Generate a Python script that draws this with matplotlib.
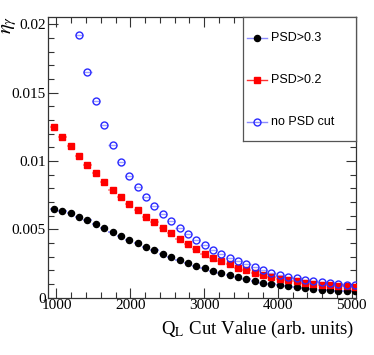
import matplotlib
matplotlib.use("Agg")
import matplotlib.pyplot as plt
from matplotlib.ticker import MultipleLocator, FuncFormatter

plt.rcParams['font.family'] = ['Liberation Serif', 'DejaVu Serif']
plt.rcParams['mathtext.fontset'] = 'stix'

# Q_L cut values (arb. units)
cut_values = [967, 1080, 1193, 1307, 1420, 1533, 1647, 1760, 1873, 1987,
              2100, 2213, 2327, 2440, 2553, 2667, 2780, 2893, 3007, 3120,
              3233, 3347, 3460, 3573, 3687, 3800, 3913, 4027, 4140, 4253,
              4367, 4480, 4593, 4707, 4820, 4933, 5047]

eta_psd03 = [0.00649, 0.00637, 0.00620, 0.00593, 0.00567, 0.00537, 0.00508,
             0.00481, 0.00449, 0.00425, 0.00398, 0.00369, 0.00348, 0.00320,
             0.00296, 0.00274, 0.00254, 0.00234, 0.00215, 0.00198, 0.00183,
             0.00168, 0.00154, 0.00139, 0.00124, 0.00110, 0.00099, 0.00090,
             0.00082, 0.00075, 0.00070, 0.00065, 0.00060, 0.00056, 0.00052,
             0.00049, 0.00046]

eta_psd02 = [0.01252, 0.01176, 0.01108, 0.01037, 0.00971, 0.00911, 0.00849,
             0.00791, 0.00737, 0.00684, 0.00640, 0.00593, 0.00552, 0.00512,
             0.00470, 0.00430, 0.00393, 0.00354, 0.00320, 0.00293, 0.00269,
             0.00244, 0.00220, 0.00201, 0.00181, 0.00164, 0.00150, 0.00139,
             0.00130, 0.00120, 0.00110, 0.00102, 0.00095, 0.00091, 0.00086,
             0.00083, 0.00081]

# no PSD cut: first three points lie above the plotted range
cut_values_nopsd = cut_values[3:]
eta_nopsd = [0.01921, 0.01652, 0.01438, 0.01262, 0.01116, 0.00993, 0.00894,
             0.00808, 0.00735, 0.00669, 0.00610, 0.00561, 0.00512, 0.00466,
             0.00422, 0.00386, 0.00351, 0.00320, 0.00293, 0.00269, 0.00244,
             0.00225, 0.00205, 0.00184, 0.00164, 0.00154, 0.00142, 0.00132,
             0.00122, 0.00113, 0.00105, 0.00100, 0.00095, 0.00091]

labels = ["PSD>0.3", "PSD>0.2", "no PSD cut"]
half_bin = 56

W, H = 374, 355
fig = plt.figure(figsize=(W / 100, H / 100), dpi=100)
ax = fig.add_axes([48 / W, 1 - 297.7 / H, (356 - 48) / W, (297.7 - 17) / H])

ax.errorbar(cut_values, eta_psd03, xerr=half_bin, fmt='o', color='black',
            ecolor='#8c8cff', elinewidth=1.2, ms=4.4, capsize=0, zorder=3)
ax.errorbar(cut_values, eta_psd02, xerr=half_bin, fmt='s', color='red',
            ecolor='#ff8c8c', elinewidth=1.2, ms=4.4, capsize=0, zorder=3)
ax.errorbar(cut_values_nopsd, eta_nopsd, xerr=half_bin, fmt='o', color='#2a2aff',
            mfc='none', mec='#2a2aff', mew=1.0, ecolor='#a0a0ff', elinewidth=1.0,
            ms=5.0, capsize=0, zorder=3)

ax.set_xlim(885, 5058)
ax.set_ylim(0, 0.02054)
ax.xaxis.set_major_locator(MultipleLocator(1000))
ax.xaxis.set_minor_locator(MultipleLocator(200))
ax.yaxis.set_major_locator(MultipleLocator(0.005))
ax.yaxis.set_minor_locator(MultipleLocator(0.001))
ax.yaxis.set_major_formatter(FuncFormatter(lambda v, p: "%g" % round(v, 4)))
ax.xaxis.set_major_formatter(FuncFormatter(lambda v, p: "%d" % v))
ax.tick_params(which='both', direction='in', top=True, right=True,
               labelsize=11, width=0.8, color='#333333')
ax.tick_params(which='major', length=7)
ax.tick_params(which='minor', length=4)
ax.tick_params(axis='x', pad=1)
ax.tick_params(axis='y', pad=1.5)
for s in ax.spines.values():
    s.set_linewidth(0.9)
    s.set_color('#333333')

fig.text(354 / W, 1 - 334 / H, r"Q$_{\mathrm{L}}$ Cut Value (arb. units)",
         ha='right', va='baseline', fontsize=13.6)
fig.text(0.0, 1 - 16 / H, r"$\eta_{\gamma}$", rotation=90, ha='left', va='top',
         fontsize=15)

# legend box
lax = fig.add_axes([243 / W, 1 - 141 / H, 113 / W, 124 / H])
lax.set_xlim(0, 1)
lax.set_ylim(0, 1)
lax.set_xticks([])
lax.set_yticks([])
lax.set_facecolor('white')
for s in lax.spines.values():
    s.set_linewidth(0.9)
    s.set_color('#555555')
ypos = [(141 - 38) / 124, (141 - 80) / 124, (141 - 122) / 124]
styles = [dict(marker='o', color='#8c8cff', mfc='black', mec='black', ms=4.4),
          dict(marker='s', color='#ff3030', mfc='red', mec='red', ms=4.4),
          dict(marker='o', color='#8c8cff', mfc='none', mec='#2a2aff', ms=5.0)]
for lab, yp, st in zip(labels, ypos, styles):
    lax.plot([0.035, 0.212], [yp, yp], lw=1.0, color=st['color'])
    lax.plot([0.124], [yp], ls='none', marker=st['marker'], mfc=st['mfc'],
             mec=st['mec'], ms=st['ms'])
    lax.text(0.25, yp, lab, ha='left', va='center', fontsize=9,
             family=['Liberation Sans', 'DejaVu Sans'])

fig.savefig("out.png", dpi=100)
